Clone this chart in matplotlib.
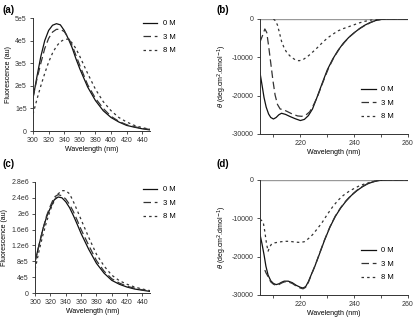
import numpy as np
import matplotlib
matplotlib.use("Agg")
import matplotlib.pyplot as plt
from matplotlib.ticker import FixedLocator

plt.rcParams['font.family'] = ['Liberation Sans', 'DejaVu Sans']
plt.rcParams['font.size'] = 5
plt.rcParams['xtick.labelsize'] = 5
plt.rcParams['ytick.labelsize'] = 5
plt.rcParams['axes.labelsize'] = 5

labels = ["0 M", "3 M", "8 M"]

# (a) fluorescence
wl_a = [300, 305, 310, 315, 320, 325, 330, 335, 340, 345, 350, 355, 360, 370,
        380, 390, 400, 410, 420, 430, 440, 450]
fa_0 = [1.45e5, 2.4e5, 3.3e5, 4.0e5, 4.45e5, 4.68e5, 4.75e5, 4.7e5, 4.45e5, 4.1e5,
        3.7e5, 3.2e5, 2.75e5, 1.95e5, 1.35e5, 0.9e5, 0.6e5, 0.4e5, 0.25e5, 0.17e5,
        0.1e5, 0.05e5]
fa_3 = [1.5e5, 2.3e5, 3.0e5, 3.65e5, 4.1e5, 4.38e5, 4.5e5, 4.5e5, 4.4e5, 4.15e5,
        3.8e5, 3.35e5, 2.9e5, 2.05e5, 1.45e5, 1.0e5, 0.65e5, 0.43e5, 0.28e5, 0.19e5,
        0.12e5, 0.07e5]
fa_8 = [0.75e5, 1.4e5, 2.0e5, 2.55e5, 3.05e5, 3.45e5, 3.75e5, 3.95e5, 4.05e5, 4.07e5,
        3.9e5, 3.65e5, 3.3e5, 2.55e5, 1.85e5, 1.3e5, 0.9e5, 0.6e5, 0.4e5, 0.25e5,
        0.15e5, 0.08e5]

# (c) fluorescence
wl_c = [300, 305, 310, 315, 320, 325, 330, 335, 340, 345, 350, 355, 360, 370,
        380, 390, 400, 410, 420, 430, 440, 450]
fc_0 = [0.8e6, 1.2e6, 1.6e6, 1.92e6, 2.15e6, 2.35e6, 2.42e6, 2.4e6, 2.3e6, 2.15e6,
        1.95e6, 1.73e6, 1.5e6, 1.1e6, 0.75e6, 0.5e6, 0.32e6, 0.22e6, 0.15e6, 0.1e6,
        0.07e6, 0.04e6]
fc_3 = [0.8e6, 1.2e6, 1.6e6, 1.95e6, 2.2e6, 2.42e6, 2.48e6, 2.45e6, 2.37e6, 2.23e6,
        2.05e6, 1.83e6, 1.6e6, 1.2e6, 0.82e6, 0.55e6, 0.36e6, 0.25e6, 0.17e6, 0.12e6,
        0.08e6, 0.05e6]
fc_8 = [0.6e6, 1.05e6, 1.45e6, 1.8e6, 2.1e6, 2.33e6, 2.5e6, 2.58e6, 2.58e6, 2.5e6,
        2.3e6, 2.08e6, 1.85e6, 1.4e6, 0.98e6, 0.68e6, 0.45e6, 0.31e6, 0.22e6, 0.15e6,
        0.1e6, 0.06e6]

# (b) CD
wl_b0 = [205, 205.7, 206.5, 207.3, 208.2, 209, 210, 211, 212, 213, 214.5, 216, 218,
         220, 221.5, 223, 224.5, 226, 228, 230, 232, 234, 236, 238, 240, 242, 244,
         246, 248, 250, 252, 260]
cd_b0 = [-14000, -17000, -20500, -23000, -24800, -25700, -26100, -25700, -25000,
         -24600, -24900, -25400, -26000, -26500, -26200, -25200, -23500, -20800,
         -17000, -13300, -10500, -8200, -6300, -4800, -3600, -2500, -1600, -900,
         -400, -100, 0, 0]
wl_b3 = [205, 206, 206.8, 207.5, 208.2, 209, 209.8, 210.6, 211.5, 212.5, 213.5, 215,
         217, 219, 220.5, 222, 223.5, 225, 226.5, 228.5, 230.5, 232.5, 234.5, 236.5,
         238.5, 240.5, 242.5, 244.5, 246.5, 248.5, 251, 260]
cd_b3 = [-6000, -4200, -2600, -3500, -7000, -11500, -16000, -19800, -22300, -23500,
         -23600, -24100, -24800, -25300, -25400, -25100, -24200, -22300, -20000,
         -16300, -12800, -10000, -7800, -6000, -4500, -3300, -2300, -1500, -800,
         -300, 0, 0]
wl_b8 = [210, 210.8, 211.5, 212.2, 213, 214, 215, 216.5, 218, 219.5, 221, 222.5, 224,
         226, 228, 230, 232, 234, 236, 238, 240, 242, 244, 246, 248, 250, 260]
cd_b8 = [0, -500, -1600, -3500, -5800, -7600, -8800, -9900, -10600, -10900, -10600,
         -9900, -9000, -7700, -6300, -5000, -4000, -3100, -2500, -2000, -1500, -1000,
         -600, -300, -150, 0, 0]

# (d) CD
wl_d0 = [205, 205.7, 206.5, 207.2, 208, 209, 210, 211, 212, 213, 214, 215.5, 217,
         218.5, 220, 221, 222, 223, 224, 225.5, 227, 229, 231, 233, 235, 237, 239,
         241, 243, 245, 247, 249, 251, 260]
cd_d0 = [-14200, -16500, -19500, -22500, -24800, -26300, -27000, -27300, -27100,
         -26700, -26400, -26400, -26800, -27500, -28000, -28200, -27800, -26500,
         -24800, -22300, -19500, -15700, -12300, -9500, -7300, -5500, -4000, -2800,
         -1800, -1000, -500, -150, 0, 0]
wl_d3 = [206.8, 207.2, 208, 209, 210, 211, 212, 213, 214, 215.5, 217, 218.5, 220,
         221, 222, 223, 224, 225.5, 227, 229, 231, 233, 235, 237, 239, 241, 243, 245,
         247, 249, 251, 260]
cd_d3 = [-23500, -24200, -25200, -26600, -27200, -27500, -27300, -26900, -26600,
         -26600, -27000, -27700, -28200, -28400, -28000, -26700, -24900, -22300,
         -19400, -15600, -12200, -9400, -7200, -5400, -3900, -2700, -1700, -950,
         -450, -120, 0, 0]
wl_d8 = [205, 205.5, 206.2, 206.8, 207.4, 208, 208.6, 209.3, 210.5, 212, 214, 216,
         218, 220, 221.5, 223, 224.5, 226, 228, 230, 232, 234, 236, 238, 240, 242,
         244, 246, 248, 250, 252, 260]
cd_d8 = [-10300, -10500, -11000, -13500, -16500, -18600, -17500, -16700, -16400,
         -16200, -16000, -16000, -16200, -16300, -16100, -15300, -14300, -13000,
         -11200, -9000, -7000, -5300, -4000, -3000, -2200, -1500, -1000, -600, -250,
         -50, 0, 0]

styles = [dict(c="#111111", ls="-", lw=0.9),
          dict(c="#333333", ls=(0, (6, 3)), lw=0.9),
          dict(c="#333333", ls=(0, (2, 2.5)), lw=0.9)]

fig = plt.figure(figsize=(4.18, 3.22), dpi=100)

ax_a = fig.add_axes([0.079, 0.593, 0.280, 0.351])
ax_b = fig.add_axes([0.622, 0.584, 0.354, 0.357])
ax_c = fig.add_axes([0.084, 0.090, 0.275, 0.345])
ax_d = fig.add_axes([0.622, 0.084, 0.354, 0.357])


def style_axes(ax):
    for s in ["top", "right"]:
        ax.spines[s].set_visible(False)
    for s in ["left", "bottom"]:
        ax.spines[s].set_linewidth(0.7)
        ax.spines[s].set_color("#333333")
    ax.tick_params(direction="out", length=2.5, width=0.6, pad=2, colors="#333333")
    ax.set_xlabel("Wavelength (nm)", labelpad=1.5)


def add_legend(ax, x, y):
    ax.legend(loc="upper left", bbox_to_anchor=(x, y), bbox_transform=fig.transFigure,
              frameon=False, borderaxespad=0, borderpad=0, handlelength=1.9,
              handletextpad=0.7, labelspacing=0.8, fontsize=5.5)


# fluorescence panels
for ax, x, ys, ymax, ystep, leg in [(ax_a, wl_a, [fa_0, fa_3, fa_8], 5e5, 1e5, (0.342, 0.938)),
                                    (ax_c, wl_c, [fc_0, fc_3, fc_8], 2.8e6, 4e5, (0.342, 0.422))]:
    for y, lab, st in zip(ys, labels, styles):
        ax.plot(x, y, label=lab, **st)
    style_axes(ax)
    ax.set_xlim(300, 450)
    ax.set_ylim(0, ymax)
    ax.xaxis.set_major_locator(FixedLocator(np.arange(300, 441, 20)))
    yt = np.arange(0, ymax + 1, ystep)
    ax.set_yticks(yt)
    ax.set_yticklabels(["0"] + ["%ge%d" % (v / 10 ** int(np.log10(v)), int(np.log10(v)))
                                for v in yt[1:]])
    ax.set_ylabel("Fluorescence (au)", labelpad=2)
    add_legend(ax, *leg)

# CD panels
for ax, data, leg in [(ax_b, [(wl_b0, cd_b0), (wl_b3, cd_b3), (wl_b8, cd_b8)], (0.864, 0.733)),
                      (ax_d, [(wl_d0, cd_d0), (wl_d3, cd_d3), (wl_d8, cd_d8)], (0.864, 0.233))]:
    ax.axhline(0, color="#999999", lw=1.0, zorder=0)
    for (x, y), lab, st in zip(data, labels, styles):
        ax.plot(x, y, label=lab, **st)
    style_axes(ax)
    ax.set_xlim(205, 260)
    ax.set_ylim(-30000, 0)
    ax.xaxis.set_major_locator(FixedLocator([220, 240, 260]))
    ax.xaxis.set_minor_locator(FixedLocator([210, 230, 250]))
    ax.tick_params(which="minor", direction="out", length=2.5, width=0.6, colors="#333333")
    ax.set_yticks([-30000, -20000, -10000, 0])
    ax.set_yticklabels(["-30000", "-20000", "-10000", "0"])
    ax.set_ylabel(r"$\theta$ (deg.cm$^2$.dmol$^{-1}$)", labelpad=2)
    add_legend(ax, *leg)

for lab, x, y in [("(a)", 0.005, 0.985), ("(b)", 0.517, 0.985),
                  ("(c)", 0.005, 0.505), ("(d)", 0.517, 0.505)]:
    fig.text(x, y, lab, fontsize=7, fontweight="bold", va="top", ha="left")

fig.savefig("out.png", dpi=100)
